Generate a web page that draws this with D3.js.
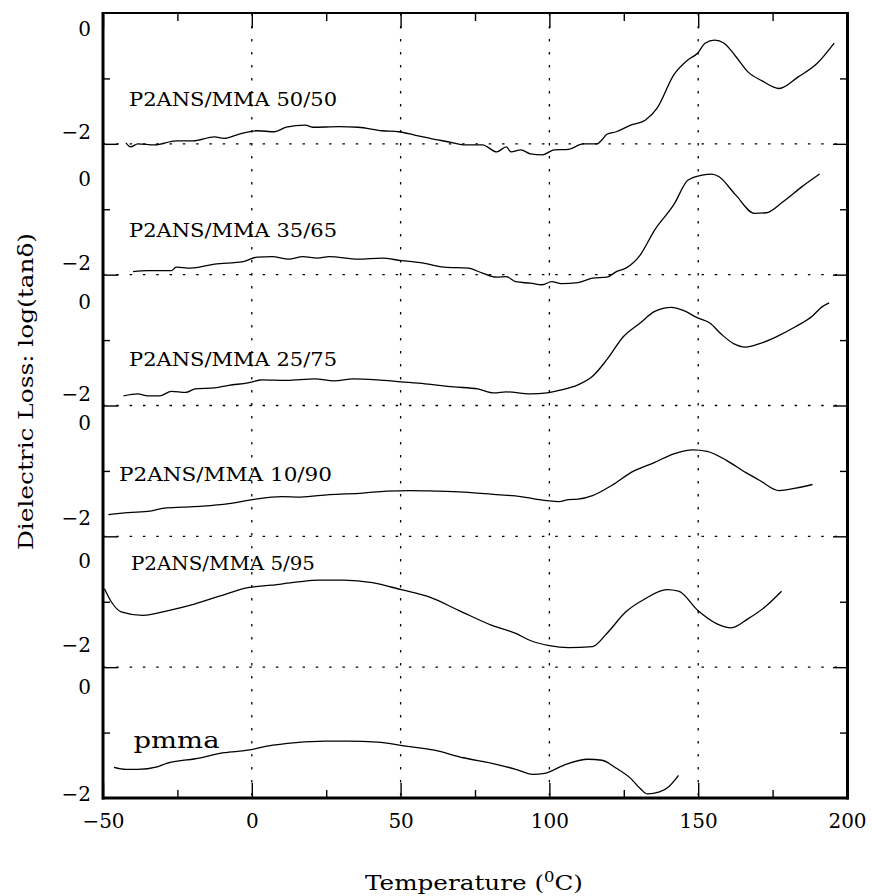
<!DOCTYPE html>
<html><head><meta charset="utf-8">
<script src="https://cdn.jsdelivr.net/npm/d3@7"></script>
<style>
body{margin:0;background:#fff}
svg{display:block}
text{font-family:"DejaVu Serif",serif;fill:#000}
</style>
</head><body>
<svg id="c" width="872" height="896"></svg>
<script>
// ---------- data ----------
const seriesNames = ["P2ANS/MMA 50/50","P2ANS/MMA 35/65","P2ANS/MMA 25/75","P2ANS/MMA 10/90","P2ANS/MMA 5/95","pmma"];

const temp5050 = [-42.3,-40.7,-38.3,-32.6,-25.4,-19.8,-12.5,-9.3,-4.5,1.9,7.6,11.6,18,20.4,29.3,35.7,43.7,49.4,55,61.4,67,71,77.5,82.3,85.5,87.1,90.4,93.6,97.6,101.6,106.4,111.3,116,117.7,119.3,122.5,127.3,132.2,136.2,141.8,146.6,149.8,152.3,155.5,158.7,162.7,166.7,171.5,177.2,183.6,190,195.7];
const loss5050 = [-2.28,-2.36,-2.30,-2.32,-2.24,-2.24,-2.16,-2.19,-2.11,-2.04,-2.06,-1.97,-1.93,-1.97,-1.96,-1.97,-2.04,-2.06,-2.13,-2.21,-2.27,-2.32,-2.32,-2.46,-2.36,-2.46,-2.42,-2.50,-2.52,-2.42,-2.41,-2.30,-2.30,-2.22,-2.11,-2.06,-1.93,-1.83,-1.59,-0.93,-0.63,-0.50,-0.30,-0.24,-0.30,-0.57,-0.87,-1.05,-1.20,-0.97,-0.70,-0.30];

const temp3565 = [-39.9,-35,-27,-25.4,-20.6,-12.5,-2.9,1.9,6.8,12.4,17.2,22,26,35.7,43.7,50.2,56.6,64.6,72.7,77.5,82.3,85.5,88.7,93.6,97.6,100.8,104,109.6,114.5,119.3,122.5,125.7,130.5,135.4,141.8,146.6,151.4,154.5,156.9,162.5,168.9,172.8,178.5,184.9,190.8];
const loss3565 = [-2.24,-2.22,-2.22,-2.15,-2.17,-2.09,-2.04,-1.95,-1.94,-1.99,-1.94,-1.97,-1.94,-1.99,-1.97,-2.02,-2.06,-2.15,-2.17,-2.27,-2.35,-2.34,-2.44,-2.47,-2.50,-2.44,-2.48,-2.46,-2.37,-2.35,-2.24,-2.17,-1.91,-1.41,-0.91,-0.42,-0.32,-0.30,-0.35,-0.71,-1.08,-1.07,-0.85,-0.55,-0.30];

const temp2575 = [-43.1,-38.3,-35,-31,-27,-22.2,-19,-12.5,-7.7,-1.3,3.5,11.6,21.2,27.7,34.1,42.1,50.2,58.2,67.8,75.9,81.5,85.5,93.6,99.2,103.2,109.6,114.5,119.3,124.9,130.5,135.4,141,145,149.8,153.9,157.9,161.9,165.9,170.7,176.4,182.8,188.4,191.6,194];
const loss2575 = [-2.11,-2.07,-2.11,-2.11,-2.02,-2.04,-1.97,-1.95,-1.90,-1.85,-1.79,-1.80,-1.77,-1.81,-1.77,-1.79,-1.83,-1.87,-1.93,-1.97,-2.05,-2.03,-2.07,-2.05,-2.00,-1.89,-1.72,-1.39,-0.93,-0.66,-0.43,-0.35,-0.41,-0.56,-0.66,-0.89,-1.07,-1.14,-1.07,-0.93,-0.73,-0.52,-0.34,-0.26];

const temp1090 = [-48.2,-41.5,-34.2,-29.4,-23,-16.6,-7.7,0.3,10,16.4,26,37.3,45.3,53.4,61.4,71.1,82.3,90.4,94.4,99.2,103.2,106.4,109.6,114.5,120.9,128.1,135.4,141.8,148.2,153,159.5,165.9,170.7,177.2,182.8,188.4];
const loss1090 = [-1.87,-1.83,-1.80,-1.74,-1.72,-1.70,-1.65,-1.57,-1.51,-1.52,-1.47,-1.44,-1.40,-1.39,-1.40,-1.42,-1.47,-1.51,-1.55,-1.59,-1.61,-1.57,-1.56,-1.49,-1.29,-1.01,-0.83,-0.66,-0.58,-0.61,-0.79,-1.03,-1.19,-1.39,-1.34,-1.27];

const temp0595 = [-49.5,-47.1,-43.9,-36.7,-27,-19,-10.9,-1.3,6.8,14.8,22.8,30.9,40.5,50.2,59.8,69.5,80.7,88.7,93.6,100,106.4,114.5,119.3,125.7,132.2,139.4,143.4,149.8,156.3,161.1,166.7,172.3,178];
const loss0595 = [-0.74,-1.01,-1.20,-1.27,-1.16,-1.04,-0.89,-0.72,-0.67,-0.61,-0.57,-0.57,-0.62,-0.76,-0.91,-1.17,-1.47,-1.63,-1.77,-1.87,-1.91,-1.89,-1.63,-1.20,-0.94,-0.76,-0.79,-1.17,-1.44,-1.52,-1.34,-1.11,-0.79];

const tempPmma = [-46.3,-42.3,-38.3,-31.8,-28.6,-19,-9.3,-1.3,5.1,14.8,24.4,32.5,42.1,51.8,61.4,71.1,80.7,88.7,94.4,98.4,104.8,112.9,117.7,122.5,127.3,130.5,132.9,137,140.2,143.4];
const lossPmma = [-1.69,-1.73,-1.73,-1.68,-1.61,-1.52,-1.40,-1.35,-1.27,-1.20,-1.17,-1.17,-1.19,-1.27,-1.35,-1.50,-1.61,-1.73,-1.83,-1.81,-1.65,-1.53,-1.55,-1.71,-1.91,-2.11,-2.22,-2.18,-2.07,-1.85];

const xMajorTicks = [-50,0,50,100,150,200];
const xMinorTicks = [-25,25,75,125,175];
const xGridTemps = [0,50,100,150];
const yTickLabels = ["0","\u22122"];
const panelDomain = [-2.3,0.3];
const panelMidTick = -1;
const xTitle = "Temperature (";
const xTitleSup = "0";
const xTitleEnd = "C)";
const yTitle = "Dielectric Loss: log(tan\u03b4)";

// ---------- layout ----------
const W = 872, H = 896;
const L = 103, R = 847, T = 13, B = 798;
const nP = 6, ph = (B - T) / nP;
// y-label centres (px offset from panel top for "0", from panel bottom for "-2")
const yLabelOff = [[16,12.5],[34.5,11.5],[27.5,12],[17.5,18.5],[24,22.5],[19.5,4]];
const nameLayout = [
  {x:129, y:106, w:208, fs:19},
  {x:129, y:236.5, w:208, fs:19},
  {x:129, y:366, w:208, fs:19},
  {x:119, y:481, w:213, fs:19},
  {x:131, y:570, w:184, fs:19},
  {x:133.5, y:748, w:86, fs:23}
];

const series = [
  [temp5050, loss5050],[temp3565, loss3565],[temp2575, loss2575],
  [temp1090, loss1090],[temp0595, loss0595],[tempPmma, lossPmma]
];

const svg = d3.select("#c");
const x = d3.scaleLinear().domain([-50,200]).range([L,R]);
const yScales = d3.range(nP).map(i => d3.scaleLinear().domain(panelDomain).range([T + (i+1)*ph, T + i*ph]));

// vertical dotted grid
svg.append("g").selectAll("line").data(xGridTemps).join("line")
  .attr("x1", d => x(d)).attr("x2", d => x(d)).attr("y1", T).attr("y2", B)
  .attr("stroke","#000").attr("stroke-width",1.3).attr("stroke-dasharray","2.5,10.5");

// horizontal dotted panel separators
svg.append("g").selectAll("line").data(d3.range(nP-1)).join("line")
  .attr("x1", L).attr("x2", R)
  .attr("y1", i => yScales[i](panelDomain[0])).attr("y2", i => yScales[i](panelDomain[0]))
  .attr("stroke","#000").attr("stroke-width",1.3).attr("stroke-dasharray","2.5,10.8");

// x axes
const bottomMajor = d3.axisBottom(x).tickValues(xMajorTicks).tickSize(-15).tickPadding(16).tickFormat(d => d < 0 ? "\u2212" + Math.abs(d) : d);
const gB = svg.append("g").attr("transform",`translate(0,${B})`).call(bottomMajor);
gB.select(".domain").remove();
gB.selectAll("text").attr("font-size",20).attr("font-family","DejaVu Serif");
gB.selectAll("line").attr("stroke-width",1.4);
const gBm = svg.append("g").attr("transform",`translate(0,${B})`).call(d3.axisBottom(x).tickValues(xMinorTicks).tickSize(-8).tickFormat(""));
gBm.select(".domain").remove(); gBm.selectAll("line").attr("stroke-width",1.4);
const gT = svg.append("g").attr("transform",`translate(0,${T})`).call(d3.axisTop(x).tickValues(xMajorTicks).tickSize(-15).tickFormat(""));
gT.select(".domain").remove(); gT.selectAll("line").attr("stroke-width",1.4);
const gTm = svg.append("g").attr("transform",`translate(0,${T})`).call(d3.axisTop(x).tickValues(xMinorTicks).tickSize(-8).tickFormat(""));
gTm.select(".domain").remove(); gTm.selectAll("line").attr("stroke-width",1.4);

// y axis ticks per panel
yScales.forEach((y, i) => {
  const bounds = i < nP-1 ? [panelDomain[0]] : [];
  const gl = svg.append("g").attr("transform",`translate(${L},0)`).call(d3.axisLeft(y).tickValues([panelMidTick]).tickSize(-7).tickFormat(""));
  gl.select(".domain").remove(); gl.selectAll("line").attr("stroke-width",1.4);
  const gr = svg.append("g").attr("transform",`translate(${R},0)`).call(d3.axisRight(y).tickValues([panelMidTick]).tickSize(-7).tickFormat(""));
  gr.select(".domain").remove(); gr.selectAll("line").attr("stroke-width",1.4);
  if (bounds.length) {
    const gl2 = svg.append("g").attr("transform",`translate(${L},0)`).call(d3.axisLeft(y).tickValues(bounds).tickSize(-15).tickFormat(""));
    gl2.select(".domain").remove(); gl2.selectAll("line").attr("stroke-width",1.4);
    const gr2 = svg.append("g").attr("transform",`translate(${R},0)`).call(d3.axisRight(y).tickValues(bounds).tickSize(-14).tickFormat(""));
    gr2.select(".domain").remove(); gr2.selectAll("line").attr("stroke-width",1.4);
  }
  const top = y.range()[1], bot = y.range()[0];
  svg.append("text").attr("x",91).attr("y", top + yLabelOff[i][0]).attr("dy","0.36em")
    .attr("text-anchor","end").attr("font-size",20).text(yTickLabels[0]);
  svg.append("text").attr("x",91).attr("y", bot - yLabelOff[i][1]).attr("dy","0.36em")
    .attr("text-anchor","end").attr("font-size",20).text(yTickLabels[1]);
});

// frame
svg.append("line").attr("x1",L-1).attr("x2",R+1).attr("y1",T).attr("y2",T).attr("stroke","#000").attr("stroke-width",2);
svg.append("line").attr("x1",L-1).attr("x2",R+1.5).attr("y1",B).attr("y2",B).attr("stroke","#000").attr("stroke-width",3);
svg.append("line").attr("x1",L).attr("x2",L).attr("y1",T-1).attr("y2",B+1.5).attr("stroke","#000").attr("stroke-width",3);
svg.append("line").attr("x1",R+0.5).attr("x2",R+0.5).attr("y1",T-1).attr("y2",B+1.5).attr("stroke","#000").attr("stroke-width",3);

// curves
series.forEach(([tx, ly], i) => {
  const y = yScales[i];
  const pts = tx.map((t, k) => [t, ly[k]]);
  const line = d3.line().x(d => x(d[0])).y(d => y(d[1])).curve(d3.curveMonotoneX);
  svg.append("path").attr("d", line(pts)).attr("fill","none").attr("stroke","#000").attr("stroke-width",1.3);
});

// series names
seriesNames.forEach((name, i) => {
  const s = nameLayout[i];
  svg.append("text").attr("x", s.x).attr("y", s.y).attr("font-size", s.fs)
    .attr("textLength", s.w).attr("lengthAdjust","spacingAndGlyphs").text(name);
});

// x title
const xt = svg.append("text").attr("x", 474).attr("y", 890).attr("text-anchor","middle").attr("font-size",21)
  .attr("textLength",218).attr("lengthAdjust","spacingAndGlyphs");
xt.append("tspan").text(xTitle);
xt.append("tspan").attr("font-size",14).attr("dy",-8).text(xTitleSup);
xt.append("tspan").attr("dy",8).text(xTitleEnd);

// y title
svg.append("text").attr("transform","translate(33,391.5) rotate(-90)").attr("text-anchor","middle")
  .attr("font-size",21).attr("textLength",317).attr("lengthAdjust","spacingAndGlyphs").text(yTitle);
</script>
</body></html>
